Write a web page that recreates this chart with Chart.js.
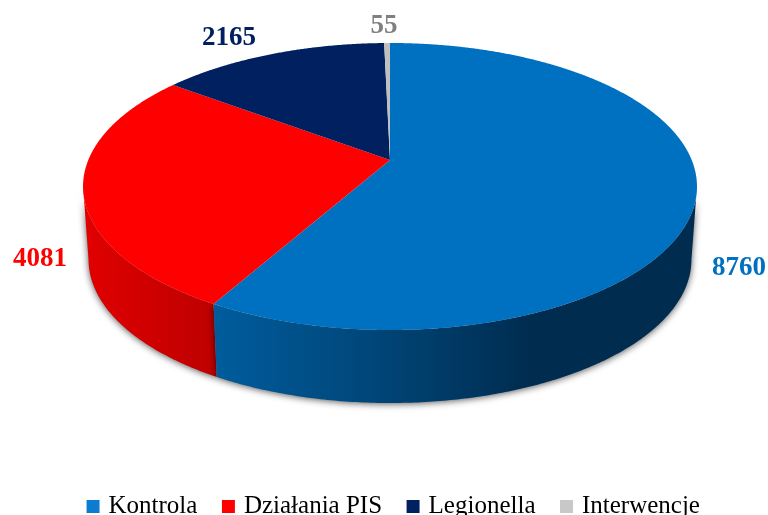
<!DOCTYPE html>
<html>
<head>
<meta charset="utf-8">
<style>
html, body { margin: 0; padding: 0; background: #fff; overflow: hidden; }
canvas { display: block; }
</style>
<script src="https://cdn.jsdelivr.net/npm/chart.js@4"></script>
</head>
<body>
<canvas id="canvas" width="768" height="515"></canvas>
<script>
var categories = ['Kontrola', 'Działania PIS', 'Legionella', 'Interwencje'];
var values = [8760, 4081, 2165, 55];
var sliceColors = ['#0070c0', '#ff0000', '#002060', '#bfbfbf'];
var legendColors = ['#0b7ccf', '#ff0000', '#002060', '#c8c8c8'];
var labelColors = ['#0070c0', '#ff0000', '#002060', '#808080'];
// where each value label sits (center of text)
var labelPos = [[739, 268], [40, 259], [229, 38], [384, 26]];

// tilted disc: circle -> ellipse with perspective, apex is not the ellipse center
var discX = 390, apexY = 160, tiltA = 109.06, tiltC = -0.1847, tiltD = 301.7;
var depth = 73, bottomScale = 0.982;
var extremeV = -tiltC;

function project(ang, low) {
    var u = Math.cos(ang), v = Math.sin(ang);
    var w = 1 + tiltC * v;
    var x = tiltD * u / w;
    var y = (apexY + tiltA * v) / w;
    if (low) {
        x *= bottomScale;
        y += depth;
    }
    return [discX + x, y];
}

function sideGradient(ctx, i) {
    var g;
    if (i == 0) {
        g = ctx.createLinearGradient(215, 0, 697, 0);
        g.addColorStop(0, '#005c9c');
        g.addColorStop(0.3, '#00487c');
        g.addColorStop(0.66, '#002c4f');
        g.addColorStop(1, '#002c4f');
    } else {
        g = ctx.createLinearGradient(85, 0, 218, 0);
        g.addColorStop(0, '#e00000');
        g.addColorStop(1, '#bd0000');
    }
    return g;
}

var disc3d = {
    id: 'disc3d',
    beforeDatasetsDraw: function (chart) {
        var ctx = chart.ctx;
        var arcs = chart.getDatasetMeta(0).data;
        var rightEdge = Math.asin(extremeV);
        var leftEdge = Math.PI - rightEdge;

        // side wall, only the front part of the disc is visible
        for (var i = 1; i >= 0; i--) {
            var a0 = Math.max(arcs[i].startAngle, rightEdge);
            var a1 = Math.min(arcs[i].endAngle, leftEdge);
            if (i == 1) a0 = arcs[i].startAngle;
            if (a1 <= a0) continue;
            ctx.save();
            ctx.shadowColor = 'rgba(0,0,0,0.65)';
            ctx.shadowBlur = 7;
            ctx.shadowOffsetY = 1;
            ctx.fillStyle = sideGradient(ctx, i);
            ctx.beginPath();
            var a, p;
            for (a = a0; a < a1; a += 0.01) {
                p = project(a, false);
                ctx.lineTo(p[0], p[1]);
            }
            p = project(a1, false);
            ctx.lineTo(p[0], p[1]);
            for (a = a1; a > a0; a -= 0.01) {
                p = project(a, true);
                ctx.lineTo(p[0], p[1]);
            }
            p = project(a0, true);
            ctx.lineTo(p[0], p[1]);
            ctx.closePath();
            ctx.fill();
            ctx.restore();
        }

        // top face
        arcs.forEach(function (arc, i) {
            ctx.beginPath();
            ctx.moveTo(discX, apexY);
            for (var a = arc.startAngle; a < arc.endAngle; a += 0.005) {
                var p = project(a, false);
                ctx.lineTo(p[0], p[1]);
            }
            var e = project(arc.endAngle, false);
            ctx.lineTo(e[0], e[1]);
            ctx.closePath();
            ctx.fillStyle = sliceColors[i];
            ctx.fill();
        });

        // value labels
        ctx.font = 'bold 27px "Liberation Serif"';
        ctx.textAlign = 'center';
        ctx.textBaseline = 'middle';
        values.forEach(function (val, i) {
            ctx.fillStyle = labelColors[i];
            ctx.fillText(String(val), labelPos[i][0], labelPos[i][1]);
        });
        return false;
    }
};

const ctx = document.getElementById('canvas');

new Chart(ctx, {
    type: 'pie',
    data: {
        labels: categories,
        datasets: [{
            data: values,
            backgroundColor: legendColors,
            borderWidth: 0
        }]
    },
    options: {
        responsive: false,
        animation: false,
        layout: { padding: { left: 22, bottom: -14 } },
        plugins: {
            tooltip: { enabled: false },
            legend: {
                position: 'bottom',
                labels: {
                    // small box + thick border keeps the text close to the swatch
                    boxWidth: 6,
                    boxHeight: 6,
                    padding: 28,
                    color: '#1b2a5c',
                    font: { family: 'Liberation Serif', size: 25 },
                    generateLabels: function (chart) {
                        return categories.map(function (name, i) {
                            return {
                                text: name,
                                fillStyle: legendColors[i],
                                strokeStyle: legendColors[i],
                                lineWidth: 7,
                                index: i
                            };
                        });
                    }
                }
            }
        }
    },
    plugins: [disc3d]
});
</script>
</body>
</html>
